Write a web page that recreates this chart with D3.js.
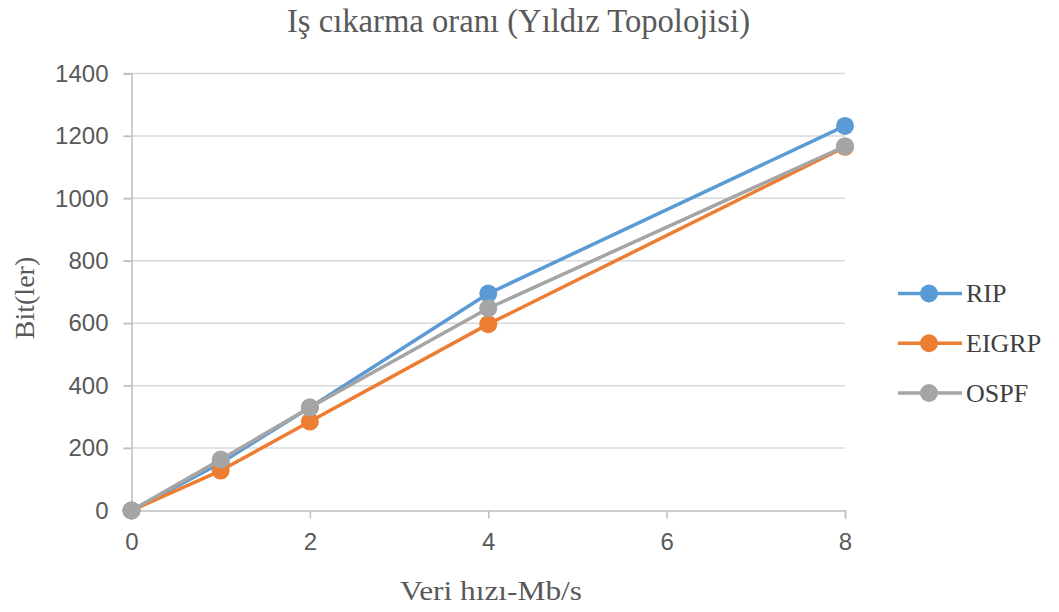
<!DOCTYPE html>
<html><head><meta charset="utf-8">
<script src="https://cdn.jsdelivr.net/npm/d3@7"></script>
<style>body{margin:0;background:#fff}svg{display:block}</style>
</head><body>
<svg id="c" width="1059" height="612"></svg>
<script>
const xValues = [0, 1, 2, 4, 8];
const ripValues = [0, 152, 330, 695, 1232];
const eigrpValues = [0, 128, 285, 597, 1165];
const ospfValues = [0, 163, 330, 648, 1167];
const seriesNames = ["RIP", "EIGRP", "OSPF"];
const seriesColors = ["#5B9BD5", "#ED7D31", "#A5A5A5"];
const xTicks = [0, 2, 4, 6, 8];
const yTicks = [0, 200, 400, 600, 800, 1000, 1200, 1400];
const titleText = "Iş cıkarma oranı (Yıldız Topolojisi)";
const xTitle = "Veri hızı-Mb/s";
const yTitle = "Bit(ler)";

const series = [ripValues, eigrpValues, ospfValues];
const svg = d3.select("#c");
const L = 131.5, R = 845, T = 73.5, B = 510.5;
const x = d3.scaleLinear().domain([0, 8]).range([L, R]);
const y = d3.scaleLinear().domain([0, 1400]).range([B, T]);
const serif = "'Liberation Serif','Times New Roman',serif";
const sans = "'Liberation Sans',Arial,sans-serif";

// gridlines
svg.append("g").selectAll("line").data(yTicks.filter(d => d > 0)).join("line")
  .attr("x1", L - 8).attr("x2", R).attr("y1", d => y(d)).attr("y2", d => y(d))
  .attr("stroke", "#D9D9D9").attr("stroke-width", 1.5);

// y axis
const ya = svg.append("g").attr("transform", `translate(${L},0)`)
  .call(d3.axisLeft(y).tickValues(yTicks).tickFormat(d3.format("d")).tickSize(8).tickPadding(15));
ya.select(".domain").attr("stroke", "#BFBFBF").attr("stroke-width", 1.5);
ya.selectAll(".tick line").attr("stroke", "#BFBFBF").attr("stroke-width", 1.5);
ya.selectAll(".tick text").attr("font-family", sans).attr("font-size", 24).attr("fill", "#595959");

// x axis
const xa = svg.append("g").attr("transform", `translate(0,${B})`)
  .call(d3.axisBottom(x).tickValues(xTicks).tickFormat(d3.format("d")).tickSize(8).tickPadding(14));
xa.select(".domain").attr("stroke", "#BFBFBF").attr("stroke-width", 1.5);
xa.selectAll(".tick line").attr("stroke", "#BFBFBF").attr("stroke-width", 1.5);
xa.selectAll(".tick text").attr("font-family", sans).attr("font-size", 24).attr("fill", "#595959");

// lines
const line = d3.line().x((d, i) => x(xValues[i])).y(d => y(d));
series.forEach((vals, s) => {
  const g = svg.append("g");
  g.append("path").datum(vals).attr("d", line).attr("fill", "none")
    .attr("stroke", seriesColors[s]).attr("stroke-width", 3.5).attr("stroke-linejoin", "round");
  g.selectAll("circle").data(vals).join("circle")
    .attr("cx", (d, i) => x(xValues[i])).attr("cy", d => y(d)).attr("r", 9)
    .attr("fill", seriesColors[s]);
});

// titles
svg.append("text").attr("x", 518.5).attr("y", 32).attr("text-anchor", "middle")
  .attr("font-family", serif).attr("font-size", 33).attr("fill", "#595959")
  .attr("textLength", 463).attr("lengthAdjust", "spacingAndGlyphs").text(titleText);
svg.append("text").attr("x", 491).attr("y", 600).attr("text-anchor", "middle")
  .attr("font-family", serif).attr("font-size", 27).attr("fill", "#595959")
  .attr("textLength", 182).attr("lengthAdjust", "spacingAndGlyphs").text(xTitle);
svg.append("text").attr("transform", "translate(34,298) rotate(-90)").attr("text-anchor", "middle")
  .attr("font-family", serif).attr("font-size", 28).attr("fill", "#595959").text(yTitle);

// legend
const lg = svg.append("g");
seriesNames.forEach((n, i) => {
  const cy = 293.5 + i * 49.75;
  lg.append("line").attr("x1", 898).attr("x2", 962).attr("y1", cy).attr("y2", cy)
    .attr("stroke", seriesColors[i]).attr("stroke-width", 3.5);
  lg.append("circle").attr("cx", 929).attr("cy", cy).attr("r", 9).attr("fill", seriesColors[i]);
  lg.append("text").attr("x", 966).attr("y", cy + 8.5).attr("font-family", serif)
    .attr("font-size", 26).attr("fill", "#404040").text(n);
});
</script>
</body></html>
